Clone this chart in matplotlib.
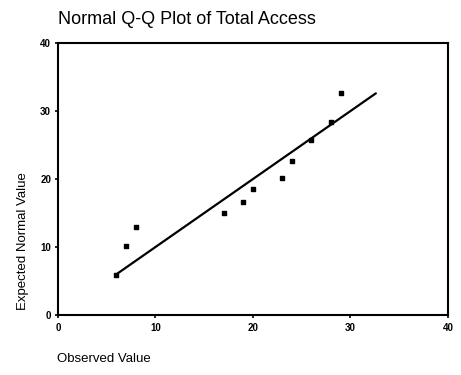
import matplotlib
matplotlib.use("Agg")
import matplotlib.pyplot as plt
import numpy as np

plt.rcParams['font.family'] = ['Liberation Sans', 'DejaVu Sans']

# Q-Q data: observed values vs. expected normal quantiles
observed = [6, 7, 8, 17, 19, 20, 23, 24, 26, 28, 29]
expected = [5.9, 10.1, 12.9, 15.0, 16.6, 18.5, 20.2, 22.7, 25.8, 28.4, 32.6]

x_ticks = [0, 10, 20, 30, 40]
y_ticks = [0, 10, 20, 30, 40]

title = "Normal Q-Q Plot of Total Access"
xlabel = "Observed Value"
ylabel = "Expected Normal Value"

fig = plt.figure(figsize=(4.61, 3.75), dpi=100)
ax = fig.add_axes([0.1258, 0.16, 0.8460, 0.7253])

# reference line y = x spanning the data range
lo = min(observed)
hi = max(max(observed), max(expected))
ax.plot([lo, hi], [lo, hi], color='black', lw=1.6, solid_capstyle='round', zorder=2)

ax.scatter(observed, expected, marker='s', s=9, color='black', zorder=3)

ax.set_xlim(0, 40)
ax.set_ylim(0, 40)
ax.set_xticks(x_ticks)
ax.set_yticks(y_ticks)
ax.set_xticklabels([str(t) for t in x_ticks], fontsize=7, fontweight='bold')
ax.set_yticklabels([str(t) for t in y_ticks], fontsize=7, fontweight='bold')
ax.tick_params(axis='x', length=2, width=1.2, pad=4)
ax.tick_params(axis='y', length=2, width=1.2, pad=3)

for s in ax.spines.values():
    s.set_linewidth(1.5)

fig.text(58 / 461, 1 - 20 / 375, title, fontsize=13, ha='left', va='center')
fig.text(57 / 461, 1 - 359 / 375, xlabel, fontsize=9.5, ha='left', va='center')
fig.text(23 / 461, 1 - 241 / 375, ylabel, fontsize=9.5, ha='center', va='center',
         rotation=90)

fig.savefig("out.png", dpi=100)
